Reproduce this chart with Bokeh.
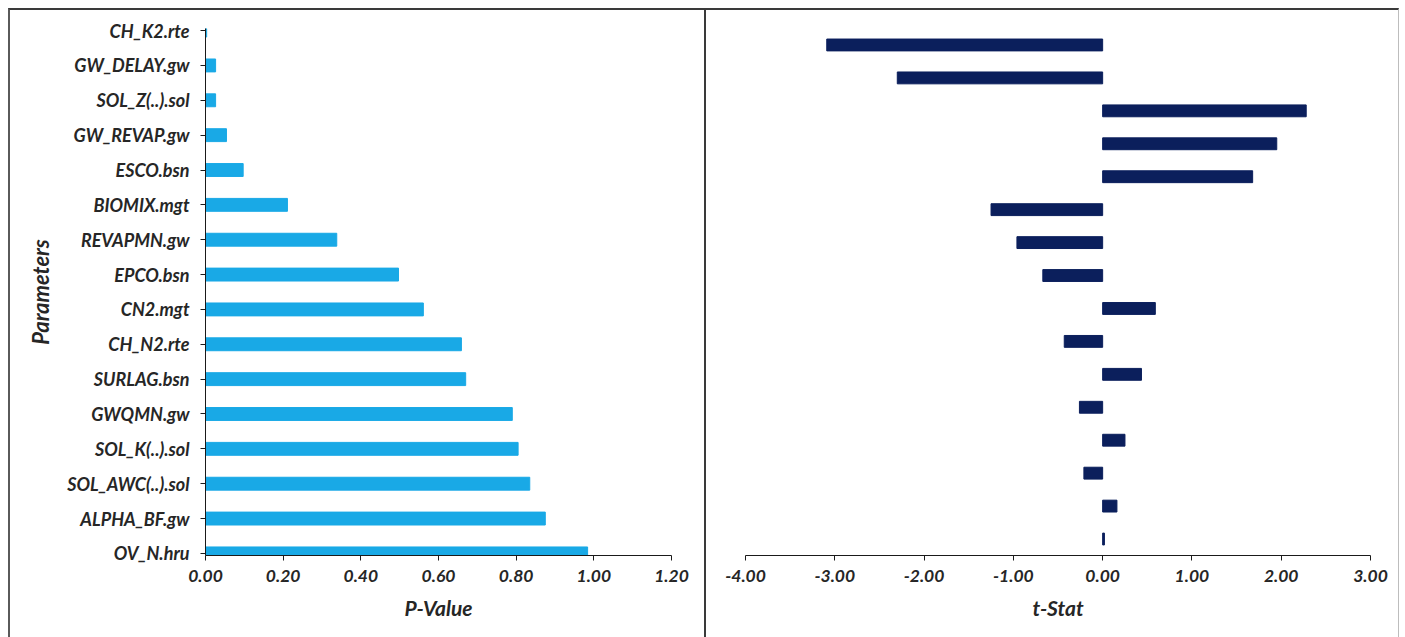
from bokeh.plotting import figure
from bokeh.models import FixedTicker, Range1d, NumeralTickFormatter
from bokeh.layouts import row
from bokeh.embed import file_html
from bokeh.resources import INLINE

# SWAT calibration parameters, bottom to top
parameters = ["OV_N.hru", "ALPHA_BF.gw", "SOL_AWC(..).sol", "SOL_K(..).sol",
              "GWQMN.gw", "SURLAG.bsn", "CH_N2.rte", "CN2.mgt", "EPCO.bsn",
              "REVAPMN.gw", "BIOMIX.mgt", "ESCO.bsn", "GW_REVAP.gw",
              "SOL_Z(..).sol", "GW_DELAY.gw", "CH_K2.rte"]
p_value = [0.984, 0.875, 0.835, 0.805, 0.79, 0.67, 0.659, 0.561, 0.497,
           0.338, 0.211, 0.097, 0.054, 0.026, 0.026, 0.003]
t_stat = [0.02, 0.16, -0.21, 0.25, -0.26, 0.435, -0.43, 0.59, -0.67,
          -0.96, -1.25, 1.68, 1.95, 2.28, -2.30, -3.09]
p_ticks = [0.0, 0.2, 0.4, 0.6, 0.8, 1.0, 1.2]
t_ticks = [-4, -3, -2, -1, 0, 1, 2, 3]

FONT = "Lato"
TXT = "#262626"
idx = list(range(len(parameters)))


def style_axis(ax, label_size="17.5px", title_size="21px"):
    ax.major_label_text_font = FONT
    ax.major_label_text_font_style = "bold italic"
    ax.major_label_text_font_size = label_size
    ax.major_label_text_color = TXT
    ax.axis_label_text_font = FONT
    ax.axis_label_text_font_style = "bold italic"
    ax.axis_label_text_font_size = title_size
    ax.axis_label_text_color = TXT
    ax.axis_line_color = "#1a1a1a"
    ax.major_tick_line_color = "#1a1a1a"
    ax.minor_tick_line_color = None
    ax.major_tick_in = 0
    ax.major_tick_out = 5


# Left panel: P-Value
p1 = figure(width=698, height=629, output_backend="svg", toolbar_location=None,
            x_range=Range1d(0, 1.2), y_range=Range1d(-0.06, 15.06),
            min_border_left=195, min_border_right=37,
            min_border_top=18, min_border_bottom=84,
            outline_line_color=None, margin=(8, 0, 0, 8),
            styles={"border-top": "2px solid #3a3a3a",
                    "border-left": "2px solid #5a5a5a",
                    "border-right": "2px solid #3a3a3a",
                    "box-sizing": "border-box"})
p1.hbar(y=idx, right=p_value, left=0, height=0.37, color="#19A9E6")
p1.xgrid.visible = False
p1.ygrid.visible = False
p1.xaxis.ticker = FixedTicker(ticks=p_ticks)
p1.xaxis.formatter = NumeralTickFormatter(format="0.00")
p1.xaxis.axis_label = "P-Value"
p1.xaxis.major_label_standoff = 9
p1.xaxis.axis_label_standoff = 10
p1.yaxis.ticker = FixedTicker(ticks=idx)
p1.yaxis.major_label_overrides = {i: n for i, n in enumerate(parameters)}
p1.yaxis.axis_label = "Parameters"
p1.yaxis.major_label_standoff = 11
p1.yaxis.axis_label_standoff = 10
style_axis(p1.xaxis)
style_axis(p1.yaxis, label_size="18px", title_size="22px")

# Right panel: t-Stat
p2 = figure(width=693, height=629, output_backend="svg", toolbar_location=None,
            x_range=Range1d(-4, 3), y_range=Range1d(-0.5, 15.5),
            min_border_left=39, min_border_right=29,
            min_border_top=18, min_border_bottom=82,
            outline_line_color=None, margin=(8, 0, 0, 0),
            styles={"border-top": "2px solid #3a3a3a",
                    "border-right": "1px solid #bdbdbd",
                    "box-sizing": "border-box"})
p2.hbar(y=idx, right=t_stat, left=0, height=0.36, color="#0B1F5C")
p2.xgrid.visible = False
p2.ygrid.visible = False
p2.yaxis.visible = False
p2.xaxis.ticker = FixedTicker(ticks=t_ticks)
p2.xaxis.formatter = NumeralTickFormatter(format="0.00")
p2.xaxis.axis_label = "t-Stat"
p2.xaxis.major_label_standoff = 9
p2.xaxis.axis_label_standoff = 10
style_axis(p2.xaxis)

layout = row(p1, p2)
open("out.html", "w").write(file_html(layout, INLINE))
